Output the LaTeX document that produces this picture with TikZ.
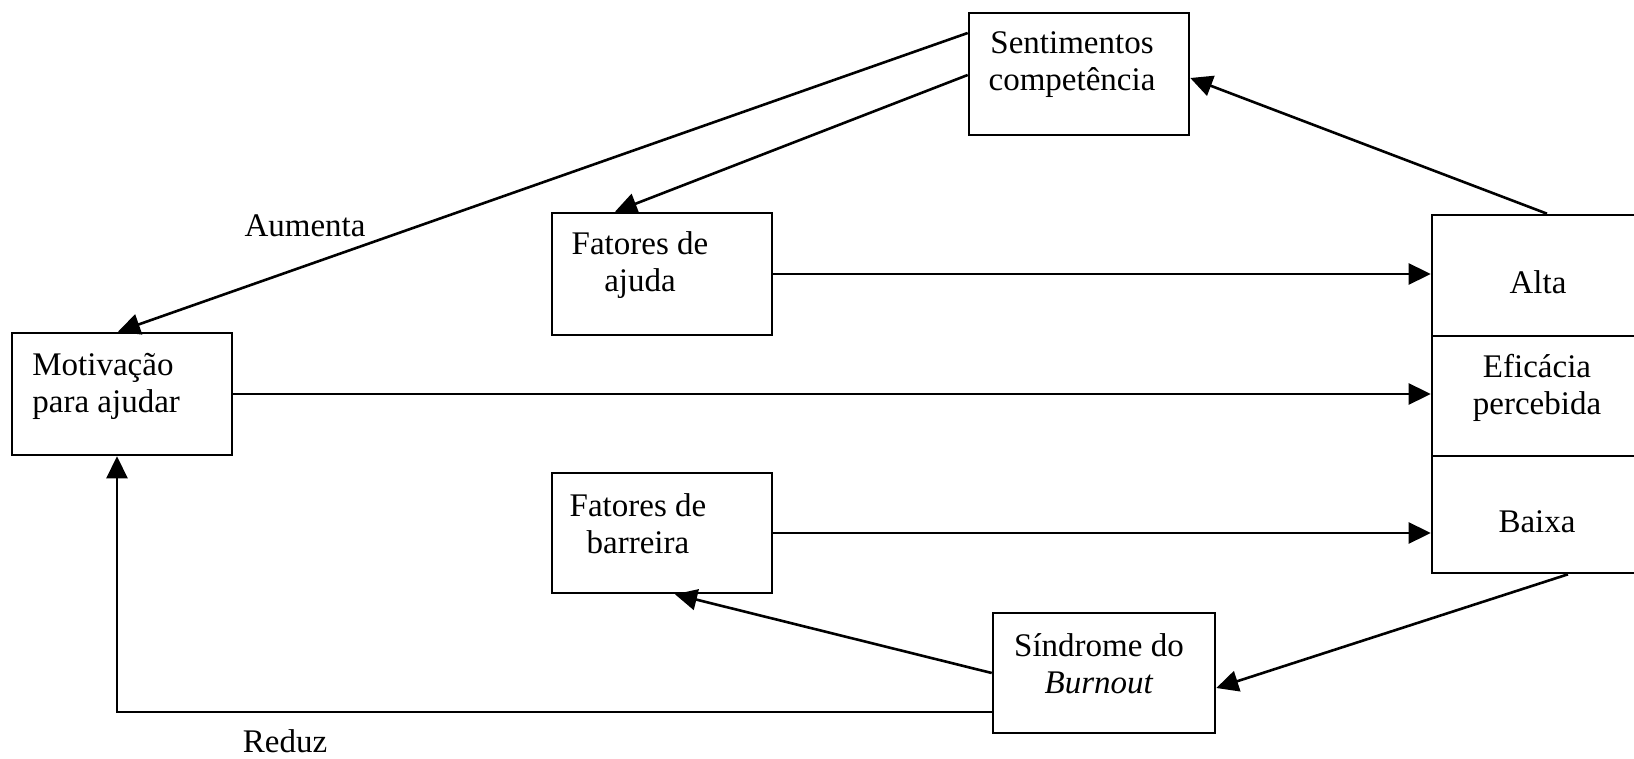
\documentclass[tikz,border=0pt]{standalone}
\usepackage{fontspec}
\setmainfont{Liberation Serif}
\usetikzlibrary{arrows.meta}
\begin{document}
\begin{tikzpicture}[x=0.5pt,y=-0.5pt,
  every node/.style={font=\fontsize{16.5}{18.5}\selectfont},
  box/.style={draw,line width=1.3pt,inner sep=0pt},
  lbl/.style={inner sep=0pt,align=center},
  conn/.style={line width=1.3pt,-{Triangle[length=11pt,width=10.5pt]}}]
\useasboundingbox (0,0) rectangle (1634,759);

% boxes
\node[box,minimum width=110pt,minimum height=61pt] (sent) at (1079,74) {};
\node[box,minimum width=110pt,minimum height=61pt] (mot) at (122,394) {};
\node[box,minimum width=110pt,minimum height=61pt] (ajuda) at (662,274) {};
\node[box,minimum width=110pt,minimum height=60pt] (barr) at (662,533) {};
\node[box,minimum width=111pt,minimum height=60pt] (sind) at (1104,673) {};
\node[box,minimum width=105pt,minimum height=179pt] (eff) at (1537,394) {};
\draw[line width=1.3pt] (1432,336) -- (1642,336) (1432,456) -- (1642,456);

% texts
\node[lbl] (tsent) at (1072,65) {Sentimentos\\competência};
\node[lbl,align=left,anchor=west] (tmot) at (32,386) {Motivação\\para ajudar};
\node[lbl] (tajuda) at (640,265) {Fatores de\\ajuda};
\node[lbl] (tbarr) at (638,524) {Fatores de\\barreira};
\node[lbl] (tsind) at (1099,664) {Síndrome do\\\textit{Burnout}};
\node[lbl] (talta) at (1538,282) {Alta};
\node[lbl] (teff) at (1537,388) {Eficácia\\percebida};
\node[lbl] (tbaixa) at (1537,522) {Baixa};
\node[inner sep=0pt,anchor=base] (aum) at (305,237) {Aumenta};
\node[inner sep=0pt,anchor=base] (red) at (285,752) {Reduz};

% connectors
\draw[conn] ([yshift=20.5pt]sent.west) -- ([xshift=-2pt]mot.north);
\draw[conn] ([yshift=-0.5pt]sent.west) -- ([xshift=-23.5pt]ajuda.north);
\draw[conn] ([xshift=5pt]eff.north) -- ([yshift=-2pt]sent.east);
\draw[conn] (ajuda.east) -- (ajuda.east -| eff.west);
\draw[conn] (mot.east) -- (eff.west);
\draw[conn] (barr.east) -- (barr.east -| eff.west);
\draw[conn] ([xshift=15.5pt]eff.south) -- ([yshift=-7.5pt]sind.east);
\draw[conn] (sind.west) -- ([xshift=6.5pt]barr.south);
\draw[conn] ([yshift=-19.5pt]sind.west) -| ([xshift=-2.5pt]mot.south);
\end{tikzpicture}
\end{document}
